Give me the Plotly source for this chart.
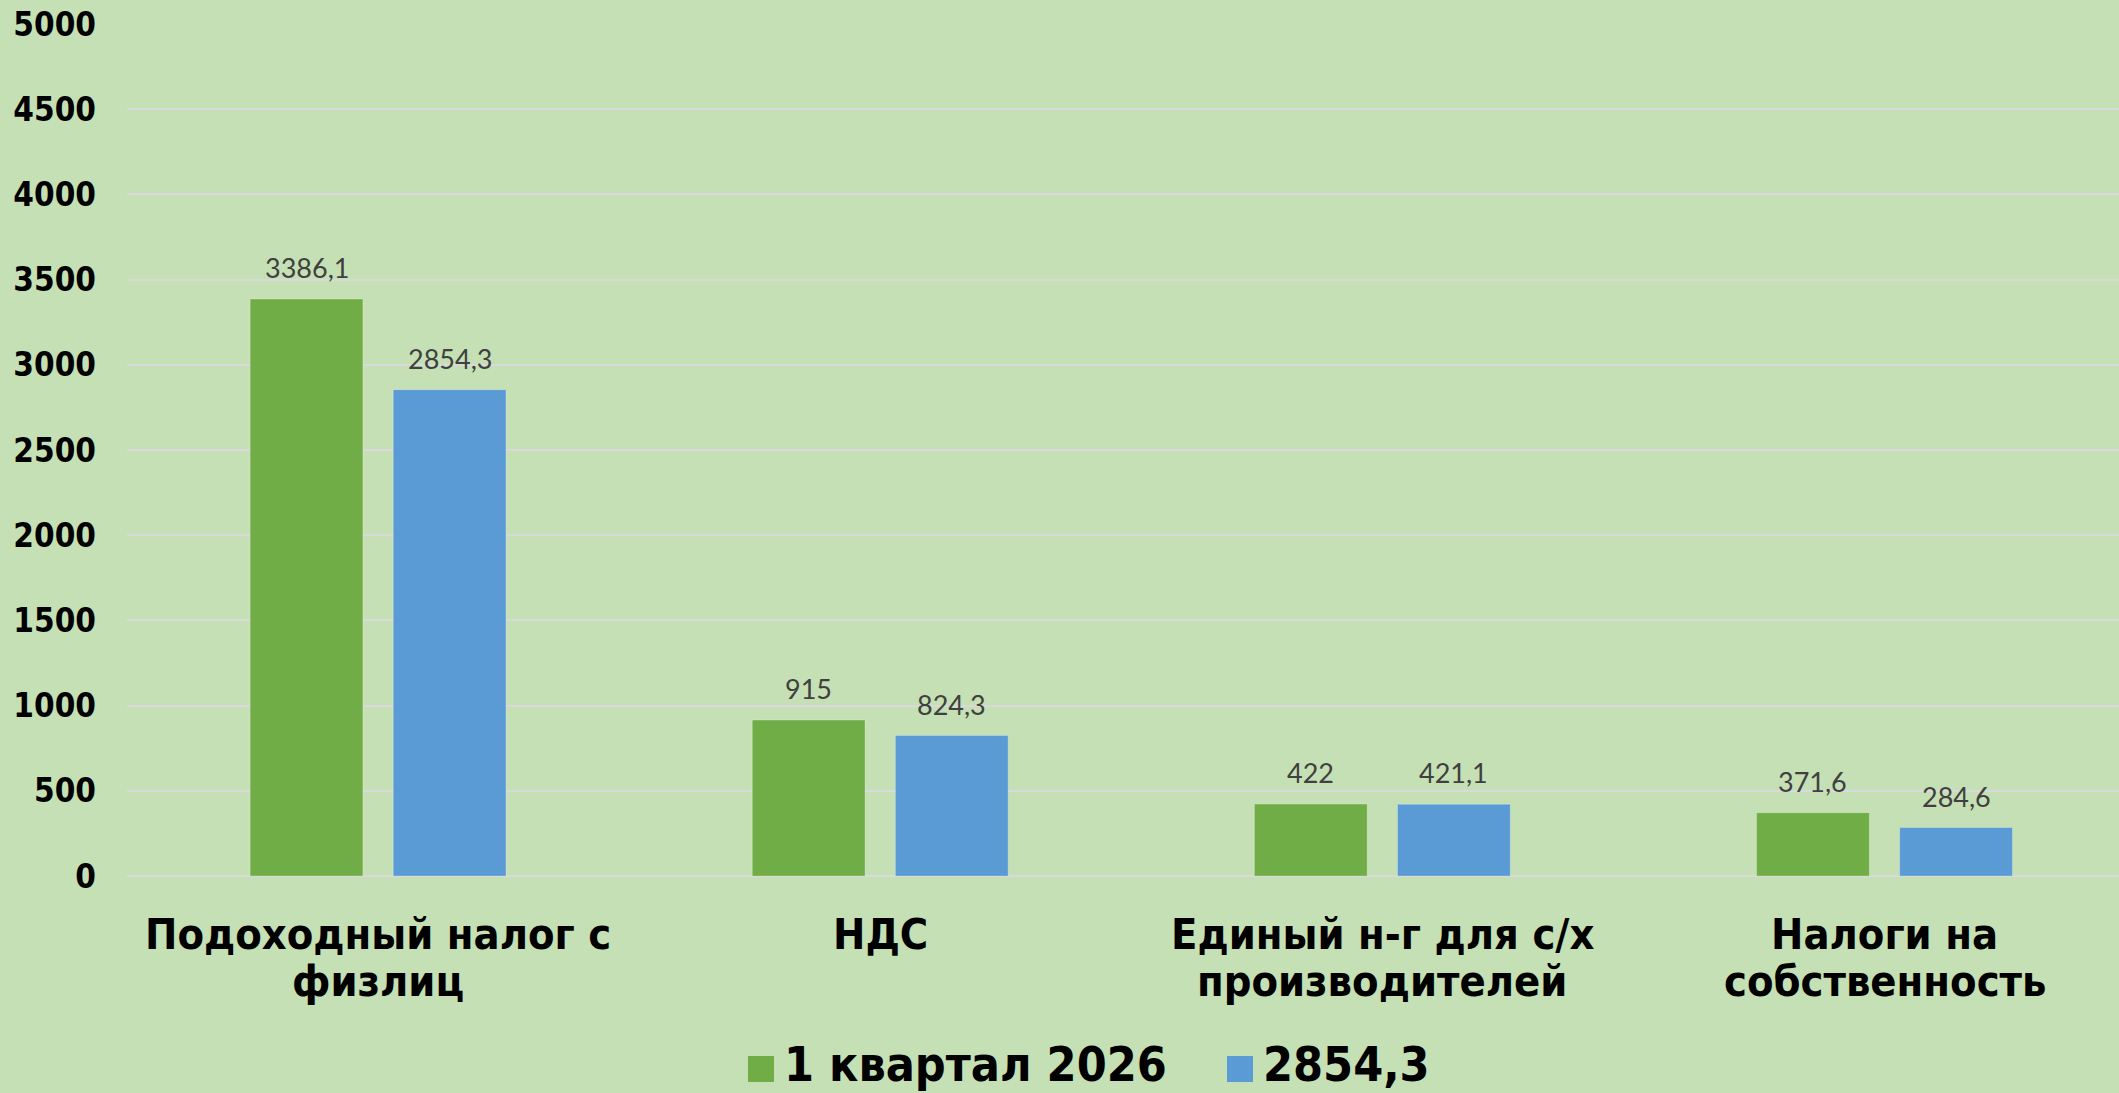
import plotly.graph_objects as go

# ---- data ----
categories = ["Подоходный налог с физлиц", "НДС", "Единый н-г для с/х производителей", "Налоги на собственность"]
cat_line1 = ["Подоходный налог с", "НДС", "Единый н-г для с/х", "Налоги на"]
cat_line2 = ["физлиц", "", "производителей", "собственность"]
series_names = ["1 квартал 2026", "2854,3"]
values_q1 = [3386.1, 915, 422, 371.6]
values_prev = [2854.3, 824.3, 421.1, 284.6]
label_q1 = ["3386,1", "915", "422", "371,6"]
label_prev = ["2854,3", "824,3", "421,1", "284,6"]
y_tickvals = [0, 500, 1000, 1500, 2000, 2500, 3000, 3500, 4000, 4500, 5000]

# ---- style ----
W, H = 2119, 1093
ML, MR, MT, MB = 127, 0, 24, 217
BG = "#C5E0B4"
GREEN = "#70AD47"
BLUE = "#5B9BD5"
GRID = "#D9D9D9"
BOLD_FONT = "DejaVu Sans Condensed, DejaVu Sans, sans-serif"
LABEL_FONT = "Lato, Carlito, sans-serif"
BARGAP = 0.43
BARGROUPGAP = 0.212
slot = (1 - BARGAP) / 2
offset = slot / 2

def px_x(p):
    return (p - ML) / (W - ML - MR)

def px_y(p):
    return (H - MB - p) / (H - MT - MB)

fig = go.Figure()
fig.add_trace(go.Bar(x=categories, y=values_q1, name=series_names[0],
                     marker=dict(color=GREEN, line=dict(color="rgba(255,255,255,0.25)", width=1)),
                     showlegend=False))
fig.add_trace(go.Bar(x=categories, y=values_prev, name=series_names[1],
                     marker=dict(color=BLUE, line=dict(color="rgba(255,255,255,0.25)", width=1)),
                     showlegend=False))

annotations = []
for i, c in enumerate(categories):
    for sgn, vals, labs in ((-1, values_q1, label_q1), (1, values_prev, label_prev)):
        annotations.append(dict(x=i + sgn * offset, y=vals[i], xref="x", yref="y",
                                text=labs[i], showarrow=False, yanchor="bottom", yshift=13,
                                font=dict(family=LABEL_FONT, size=27, color="#404040")))
    annotations.append(dict(x=i, y=0, xref="x", yref="y", text=cat_line1[i], showarrow=False,
                            yanchor="middle", yshift=-58,
                            font=dict(family=BOLD_FONT, size=43, color="black", weight="bold")))
    if cat_line2[i]:
        annotations.append(dict(x=i, y=0, xref="x", yref="y", text=cat_line2[i], showarrow=False,
                                yanchor="middle", yshift=-105,
                                font=dict(family=BOLD_FONT, size=43, color="black", weight="bold")))

# manual legend
legend_items = [(GREEN, series_names[0], 748, 783), (BLUE, series_names[1], 1227, 1262)]
shapes = []
for col, name, sx, tx in legend_items:
    shapes.append(dict(type="rect", xref="paper", yref="paper",
                       x0=px_x(sx), x1=px_x(sx + 26), y0=px_y(1082), y1=px_y(1056),
                       fillcolor=col, line=dict(width=0)))
    annotations.append(dict(x=px_x(tx), y=px_y(H), xref="paper", yref="paper", text=name,
                            showarrow=False, xanchor="left", yanchor="bottom", borderpad=0,
                            font=dict(family=BOLD_FONT, size=48, color="black", weight="bold")))

fig.update_layout(
    width=W, height=H, autosize=False,
    margin=dict(l=ML, r=MR, t=MT, b=MB, pad=0),
    paper_bgcolor=BG, plot_bgcolor=BG,
    barmode="group", bargap=BARGAP, bargroupgap=BARGROUPGAP,
    annotations=annotations, shapes=shapes,
    showlegend=False,
)
fig.update_xaxes(type="category", range=[-0.5, 3.467], showticklabels=False, showgrid=False,
                 zeroline=False, showline=False, ticks="")
fig.update_yaxes(range=[0, 5000], tickvals=y_tickvals, showgrid=True, gridcolor=GRID, gridwidth=2,
                 zeroline=True, zerolinecolor=GRID, zerolinewidth=2, showline=False, ticks="",
                 ticklabelstandoff=30,
                 tickfont=dict(family=BOLD_FONT, size=33, color="black", weight="bold"))

fig.write_html("out.html", config={"displayModeBar": False},
               post_script="document.body.style.margin='0';")
